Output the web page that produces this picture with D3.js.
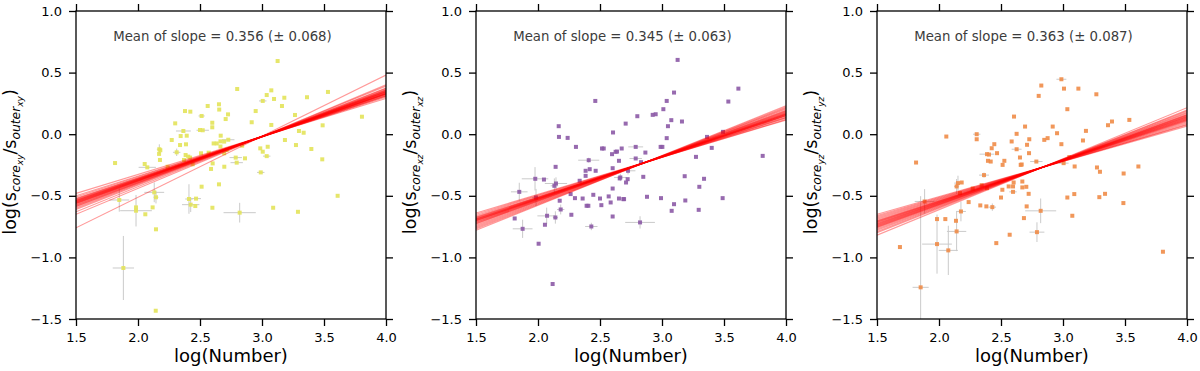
<!DOCTYPE html>
<html>
<head>
<meta charset="utf-8">
<script src="https://cdn.jsdelivr.net/npm/d3@7"></script>
<style>
	body { margin: 0; background: #fff; }
	svg { font-family: "DejaVu Sans", sans-serif; }
</style>
</head>
<body>
<svg id="chart" width="1200" height="371"></svg>
<script>
// tick values shared by the three panels
const xTicks = [1.5, 2.0, 2.5, 3.0, 3.5, 4.0];
const yTicks = [-1.5, -1.0, -0.5, 0.0, 0.5, 1.0];
const xLabel = "log(Number)";

// [log N, log(s_core/s_outer)]
const pointsXY = [[3.126,0.594],[2.80,0.367],[3.038,0.318],[3.075,0.356],[3.097,0.286],[3.006,0.27],[3.18,0.296],[3.363,0.30],[3.532,0.343],[3.161,0.229],[2.949,0.188],[2.917,0.097],[3.806,0.142],[3.266,0.156],[3.489,0.072],[3.075,0.075],[3.298,0.026],[3.336,0.012],[3.185,-0.047],[3.274,-0.088],[3.398,-0.12],[3.486,-0.204],[3.61,-0.50],[2.986,-0.115],[3.006,-0.142],[3.046,-0.102],[3.038,-0.178],[2.99,-0.31],[2.788,-0.19],[2.796,-0.231],[2.863,-0.196],[2.84,-0.093],[2.653,0.243],[2.655,0.20],[2.562,0.229],[2.726,0.161],[2.707,0.123],[2.599,0.093],[2.599,0.056],[2.667,-0.012],[2.61,-0.075],[2.635,-0.075],[2.665,-0.058],[2.695,-0.06],[2.728,-0.045],[2.665,-0.10],[2.695,-0.155],[2.696,-0.264],[2.602,-0.237],[2.589,-0.282],[2.653,-0.407],[2.513,-0.426],[2.60,-0.597],[2.508,-0.155],[2.57,-0.15],[2.522,0.032],[2.513,0.148],[2.379,0.188],[2.422,0.183],[2.30,0.088],[2.366,0.026],[2.50,0.034],[2.393,-0.012],[2.344,-0.015],[2.272,-0.047],[2.339,-0.088],[2.387,-0.082],[2.312,-0.147],[2.384,-0.169],[2.405,-0.182],[2.42,-0.19],[2.441,-0.244],[2.371,-0.209],[2.172,-0.122],[2.18,-0.13],[2.17,-0.16],[2.054,-0.242],[2.075,-0.269],[2.239,-0.264],[2.177,-0.209],[1.815,-0.234],[2.131,-0.472],[2.145,-0.512],[2.118,-0.594],[2.059,-0.65],[1.849,-0.534],[1.984,-0.594],[1.984,-0.621],[2.145,-0.772],[1.882,-1.086],[2.143,-1.433],[2.411,-0.526],[2.425,-0.572],[2.468,-0.523],[2.462,-0.583],[3.09,-0.597],[3.29,-0.63],[2.82,-0.637],[2.715,-0.128]];
const pointsXZ = [[3.126,0.603],[3.616,0.37],[3.535,0.265],[3.097,0.338],[3.038,0.27],[3.011,0.203],[2.925,0.157],[2.949,0.162],[2.801,0.146],[3.075,0.114],[3.048,0.065],[3.161,0.103],[2.707,0.086],[2.462,0.27],[2.605,0.014],[2.167,0.065],[2.169,-0.022],[2.239,-0.03],[2.306,-0.103],[2.516,-0.116],[2.53,-0.116],[2.597,-0.162],[2.626,-0.143],[2.637,-0.141],[2.675,-0.116],[2.788,-0.103],[2.866,-0.149],[3.038,-0.032],[2.989,-0.103],[3.003,-0.103],[3.363,-0.022],[3.492,0.019],[3.274,-0.184],[3.401,-0.111],[3.812,-0.176],[2.409,-0.211],[2.653,-0.216],[2.788,-0.197],[2.831,-0.227],[2.142,-0.265],[2.384,-0.297],[2.417,-0.284],[2.465,-0.297],[2.384,-0.338],[2.602,-0.276],[2.726,-0.297],[2.723,-0.365],[2.71,-0.392],[2.664,-0.351],[2.659,-0.359],[2.849,-0.346],[2.336,-0.378],[2.145,-0.40],[2.132,-0.419],[1.978,-0.362],[2.048,-0.368],[1.849,-0.468],[1.984,-0.514],[2.175,-0.54],[2.263,-0.486],[2.298,-0.519],[2.36,-0.522],[2.392,-0.581],[2.406,-0.581],[2.446,-0.492],[2.50,-0.522],[2.511,-0.576],[2.57,-0.505],[2.586,-0.554],[2.602,-0.441],[2.653,-0.522],[2.688,-0.527],[2.694,-0.527],[2.879,-0.508],[2.992,-0.519],[3.097,-0.568],[3.078,-0.622],[3.183,-0.341],[3.188,-0.538],[3.301,-0.427],[3.339,-0.362],[3.296,-0.614],[3.489,-0.519],[2.183,-0.611],[2.269,-0.654],[2.073,-0.662],[2.14,-0.676],[2.056,-0.735],[1.812,-0.684],[1.876,-0.768],[2.602,-0.668],[2.43,-0.749],[2.823,-0.716],[2.005,-0.889],[2.118,-1.216]];
const pointsYZ = [[2.987,0.446],[2.825,0.395],[3.008,0.37],[3.124,0.37],[2.804,0.311],[3.269,0.324],[3.035,0.203],[2.605,0.143],[2.059,-0.019],[1.815,-0.23],[2.304,0.0],[2.304,-0.041],[2.626,0.003],[2.694,0.062],[2.586,-0.059],[2.728,-0.041],[2.71,-0.086],[2.626,-0.122],[2.425,-0.114],[2.446,-0.081],[2.468,-0.154],[2.387,-0.162],[2.403,-0.165],[2.395,-0.216],[2.417,-0.222],[2.527,-0.216],[2.513,-0.249],[2.653,-0.189],[2.659,-0.249],[2.667,-0.246],[2.726,-0.154],[2.785,-0.222],[2.849,-0.046],[2.876,-0.032],[2.917,0.062],[2.952,0.008],[2.987,-0.081],[3.005,-0.235],[3.094,-0.262],[3.051,-0.186],[3.185,0.027],[3.161,-0.051],[3.363,0.073],[3.395,0.103],[3.535,0.116],[3.274,-0.27],[3.298,-0.305],[3.489,-0.319],[3.608,-0.262],[2.363,-0.332],[2.272,-0.441],[2.153,-0.397],[2.142,-0.424],[2.183,-0.392],[2.387,-0.438],[2.344,-0.414],[2.511,-0.451],[2.562,-0.424],[2.602,-0.392],[2.597,-0.424],[2.597,-0.468],[2.672,-0.384],[2.672,-0.432],[2.704,-0.427],[2.723,-0.484],[2.239,-0.551],[2.333,-0.578],[2.382,-0.586],[2.43,-0.592],[2.50,-0.514],[2.169,-0.478],[2.177,-0.627],[2.137,-0.703],[2.142,-0.789],[2.051,-0.689],[1.984,-0.689],[1.884,-0.546],[1.984,-0.892],[2.075,-0.943],[1.852,-1.243],[1.685,-0.916],[2.462,-0.884],[2.57,-0.816],[2.685,-0.681],[2.707,-0.586],[2.82,-0.622],[2.79,-0.795],[3.075,-0.662],[3.035,-0.514],[3.091,-0.486],[3.293,-0.511],[3.339,-0.484],[3.487,-0.559],[3.806,-0.954]];

// error bars: [log N, ratio, x error, y error]
const barsXY = [[1.849,-0.534,0.08,0.095],[1.882,-1.086,0.086,0.26],[1.984,-0.621,0.128,0.128],[2.131,-0.472,0.08,0.08],[2.411,-0.526,0.03,0.12],[2.425,-0.572,0.07,0.06],[2.468,-0.523,0.04,0],[2.82,-0.637,0.13,0.08],[2.075,-0.269,0.07,0],[2.312,-0.147,0.03,0.03],[2.366,0.026,0.06,0],[2.522,0.032,0.05,0],[2.513,0.148,0.025,0],[2.788,-0.19,0.05,0],[2.796,-0.231,0.05,0],[2.728,-0.045,0.05,0],[3.006,0.27,0.03,0],[3.038,-0.178,0.03,0],[2.99,-0.31,0.03,0],[2.145,-0.512,0.02,0.05],[2.172,-0.122,0.02,0.04]];
const barsXZ = [[1.849,-0.468,0.067,0.074],[1.976,-0.362,0.107,0.095],[1.984,-0.514,0.03,0.07],[2.07,-0.663,0.075,0.067],[1.876,-0.768,0.08,0.074],[2.43,-0.749,0.05,0.03],[2.823,-0.716,0.12,0.05],[2.409,-0.211,0.085,0.02],[2.788,-0.103,0.06,0],[2.788,-0.197,0.05,0],[2.145,-0.40,0.09,0.05],[2.132,-0.419,0.03,0.06],[2.183,-0.611,0.03,0.04],[2.14,-0.676,0.02,0.05],[2.726,-0.297,0.06,0.03],[2.664,-0.351,0.05,0.03]];
const barsYZ = [[1.852,-1.243,0.065,0.74],[1.984,-0.892,0.12,0.24],[2.075,-0.943,0.077,0.2],[2.142,-0.789,0.078,0.16],[1.884,-0.546,0.08,0.1],[2.82,-0.622,0.125,0.1],[2.79,-0.795,0.06,0.08],[2.987,0.446,0.04,0],[2.363,-0.332,0.04,0.02],[2.387,-0.162,0.06,0],[2.785,-0.222,0.05,0],[2.153,-0.397,0.03,0.06],[2.177,-0.627,0.04,0.08],[2.142,-0.424,0.02,0.06],[2.304,0.0,0.03,0],[2.626,-0.122,0.04,0],[2.597,-0.468,0.03,0],[3.005,-0.235,0.04,0],[2.43,-0.592,0.03,0.03]];

// bootstrap fits, read as the line's value at log N = 1.5 and at log N = 4.0
const fitStartXY = [-0.48,-0.50,-0.51,-0.52,-0.525,-0.53,-0.535,-0.54,-0.54,-0.545,-0.55,-0.55,-0.555,-0.56,-0.56,-0.565,-0.57,-0.575,-0.58,-0.585,-0.59,-0.60,-0.61,-0.63,-0.65,-0.76];
const fitEndXY = [0.29,0.30,0.31,0.31,0.32,0.315,0.325,0.33,0.325,0.33,0.335,0.33,0.34,0.34,0.345,0.345,0.35,0.35,0.355,0.36,0.36,0.37,0.375,0.39,0.40,0.48];
const fitStartXZ = [-0.64,-0.65,-0.66,-0.67,-0.675,-0.68,-0.685,-0.69,-0.69,-0.695,-0.70,-0.70,-0.705,-0.71,-0.715,-0.72,-0.725,-0.73,-0.74,-0.75,-0.76,-0.77,-0.78];
const fitEndXZ = [0.115,0.12,0.13,0.135,0.14,0.148,0.15,0.155,0.152,0.16,0.163,0.16,0.168,0.17,0.176,0.18,0.185,0.19,0.195,0.205,0.212,0.22,0.23];
const fitStartYZ = [-0.65,-0.66,-0.67,-0.68,-0.69,-0.70,-0.705,-0.71,-0.715,-0.72,-0.725,-0.73,-0.735,-0.74,-0.745,-0.75,-0.755,-0.76,-0.77,-0.78,-0.79,-0.80,-0.82];
const fitEndYZ = [0.065,0.075,0.08,0.09,0.1,0.108,0.112,0.118,0.12,0.126,0.13,0.134,0.14,0.143,0.147,0.152,0.157,0.16,0.17,0.178,0.188,0.195,0.215];

const slopeMeans = ["0.356", "0.345", "0.363"];
const slopeErrs = ["0.068", "0.063", "0.087"];
const projections = ["xy", "xz", "yz"];

const panels = [
	{left: 76, points: pointsXY, bars: barsXY, fitStart: fitStartXY, fitEnd: fitEndXY, color: "#e3e35a"},
	{left: 476, points: pointsXZ, bars: barsXZ, fitStart: fitStartXZ, fitEnd: fitEndXZ, color: "#8c5aa6"},
	{left: 877, points: pointsYZ, bars: barsYZ, fitStart: fitStartYZ, fitEnd: fitEndYZ, color: "#f08c48"}
];

const Width = 310;
const Top = 11;
const Bottom = 319;
const tickLen = 7;
const svg = d3.select("#chart");

panels.forEach((p, i) => {
	const x = d3.scaleLinear().domain([1.5, 4.0]).range([p.left, p.left + Width]);
	const y = d3.scaleLinear().domain([-1.5, 1.0]).range([Bottom, Top]);
	const g = svg.append("g");

	// clip marks to the axes box
	g.append("clipPath").attr("id", "clip" + i).append("rect")
		.attr("x", p.left).attr("y", Top).attr("width", Width).attr("height", Bottom - Top);
	const plot = g.append("g").attr("clip-path", `url(#clip${i})`);

	// grey error bars under everything
	const bars = plot.append("g").attr("stroke", "#cacaca").attr("stroke-width", 1);
	p.bars.forEach(b => {
		if(b[2] > 0)
			bars.append("line").attr("x1", x(b[0] - b[2])).attr("x2", x(b[0] + b[2])).attr("y1", y(b[1])).attr("y2", y(b[1]));
		if(b[3] > 0)
			bars.append("line").attr("x1", x(b[0])).attr("x2", x(b[0])).attr("y1", y(b[1] - b[3])).attr("y2", y(b[1] + b[3]));
	});

	// square markers
	plot.append("g").selectAll("rect").data(p.points).enter().append("rect")
		.attr("x", d => x(d[0]) - 2).attr("y", d => y(d[1]) - 2)
		.attr("width", 4).attr("height", 4)
		.attr("fill", p.color).attr("opacity", 0.9);

	// bundle of fitted lines
	plot.append("g").selectAll("line").data(p.fitStart).enter().append("line")
		.attr("x1", x(1.5)).attr("x2", x(4.0))
		.attr("y1", d => y(d)).attr("y2", (d, k) => y(p.fitEnd[k]))
		.attr("stroke", "#ff0000").attr("stroke-width", 1.2).attr("stroke-opacity", 0.4);

	// ticks on all four sides, pointing out
	const fmt = d3.format(".1f");
	const axes = [
		[d3.axisBottom(x).tickValues(xTicks).tickFormat(fmt), `translate(0,${Bottom})`],
		[d3.axisTop(x).tickValues(xTicks).tickFormat(""), `translate(0,${Top})`],
		[d3.axisLeft(y).tickValues(yTicks).tickFormat(fmt), `translate(${p.left},0)`],
		[d3.axisRight(y).tickValues(yTicks).tickFormat(""), `translate(${p.left + Width},0)`]
	];
	axes.forEach(a => {
		const ax = g.append("g").attr("transform", a[1])
			.call(a[0].tickSize(tickLen).tickSizeOuter(0).tickPadding(7));
		ax.select(".domain").remove();
		ax.selectAll("line").attr("stroke", "#000").attr("stroke-width", 1.3);
		ax.selectAll("text").attr("font-family", "DejaVu Sans").attr("font-size", 13).attr("fill", "#000");
	});

	// frame
	g.append("rect").attr("x", p.left).attr("y", Top).attr("width", Width).attr("height", Bottom - Top)
		.attr("fill", "none").attr("stroke", "#000").attr("stroke-width", 1.3);

	// slope annotation
	g.append("text").attr("x", x(1.8)).attr("y", 40.5)
		.attr("font-size", 13.3).attr("fill", "#3c3c3c")
		.text(`Mean of slope = ${slopeMeans[i]} (\u00b1 ${slopeErrs[i]})`);

	// x label
	g.append("text").attr("x", p.left + Width / 2).attr("y", 362)
		.attr("text-anchor", "middle").attr("font-size", 18).text(xLabel);

	// y label with nested subscripts
	const yl = g.append("text").attr("text-anchor", "middle").attr("font-size", 17.5)
		.attr("transform", `translate(${p.left - 60},162) rotate(-90)`);
	const sub = projections[i];
	yl.append("tspan").text("log(s");
	yl.append("tspan").attr("font-size", 12.3).attr("font-style", "italic").attr("dy", 4).text("core");
	yl.append("tspan").attr("font-size", 9).attr("font-style", "italic").attr("dy", 3).text(sub);
	yl.append("tspan").attr("dy", -7).text("/s");
	yl.append("tspan").attr("font-size", 12.3).attr("font-style", "italic").attr("dy", 4).text("outer");
	yl.append("tspan").attr("font-size", 9).attr("font-style", "italic").attr("dy", 3).text(sub);
	yl.append("tspan").attr("dy", -7).text(")");
});
</script>
</body>
</html>
